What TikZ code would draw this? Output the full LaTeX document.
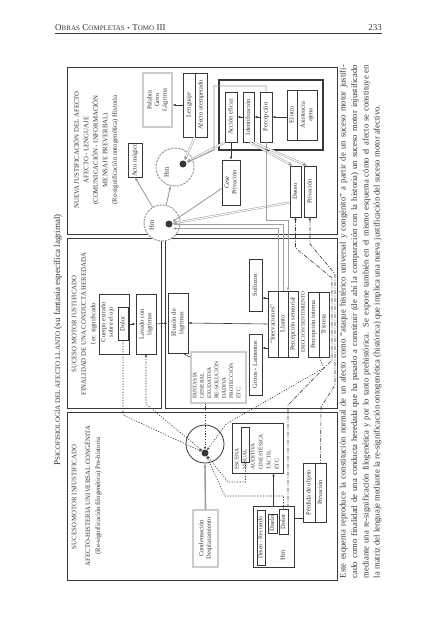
\documentclass[tikz,border=0pt]{standalone}
\usepackage{fontspec}
\setmainfont{Liberation Serif}
\usepackage{graphicx}
\usetikzlibrary{arrows.meta,calc}

\definecolor{ink}{gray}{0.22}
\definecolor{midgray}{gray}{0.62}
\definecolor{palegray}{gray}{0.8}

\newcommand{\rtx}[1]{\rotatebox{90}{\begin{tabular}{@{}c@{}}#1\end{tabular}}}
\newcommand{\rtl}[1]{\rotatebox{90}{\begin{tabular}{@{}l@{}}#1\end{tabular}}}
\newcommand{\fsc}[2]{{\fontsize{9}{9}\selectfont #1}{\fontsize{7}{7}\selectfont #2}}

\begin{document}
\begin{tikzpicture}[x=1pt, y=-1pt,
  bx/.style={draw=ink, line width=0.7pt, inner sep=0pt, text=ink, font=\fontsize{6.5}{7.5}\selectfont},
  pbx/.style={draw=palegray, line width=1.4pt, inner sep=0pt, text=ink, font=\fontsize{6.5}{7.5}\selectfont},
  txt/.style={inner sep=0pt, text=ink, font=\fontsize{6.8}{9.5}\selectfont},
  captxt/.style={inner sep=0pt, text=ink, font=\fontsize{8.6}{11}\selectfont},
  hmring/.style={circle, draw=midgray, fill=white, line width=1pt, dash pattern=on 2.5pt off 1pt, inner sep=0pt},
  blackdot/.style={circle, fill=ink, minimum size=7pt, inner sep=0pt},
  panel/.style={draw=ink, line width=0.8pt},
  thinln/.style={draw=ink, line width=0.6pt},
  lnk/.style={draw=ink, line width=0.6pt, -{Latex[length=3pt,width=2.5pt]}},
  glnk/.style={draw=midgray, line width=0.9pt, -{Latex[length=3.5pt,width=3pt]}},
  rail/.style={draw=midgray, double=white, double distance=1.1pt, line width=0.5pt, -{Latex[length=4pt,width=4pt]}},
  dotln/.style={draw=ink, line width=0.6pt, dash pattern=on 1.2pt off 1.5pt},
  dashdot/.style={draw=ink, line width=0.6pt, dash pattern=on 4pt off 1.5pt on 1pt off 1.5pt}
]
\useasboundingbox[fill=white] (0,0) rectangle (435,640);

% running head
\node[anchor=base west, inner sep=0pt, text=ink] (head) at (55,30) {\fsc{O}{BRAS} \fsc{C}{OMPLETAS} {\fontsize{7}{7}\selectfont\textbullet} \fsc{T}{OMO} {\fontsize{9}{9}\selectfont III}};
\node[anchor=base east, inner sep=0pt, text=ink, font=\fontsize{9}{9}\selectfont] (pagenum) at (382,30) {233};
\draw[ink, line width=0.9pt] (head.base west) ++(0,3.5) -- (382,33.5);

% title
\node[inner sep=0pt, text=ink] (title) at (58,340) {\rotatebox{90}{\fontsize{9}{9}\selectfont P{\fontsize{7}{7}\selectfont SICOFISIOLOGÍA DEL AFECTO LLANTO} (su fantasía específica lagrimal)}};

% panels
\draw[panel] (67,67) rectangle (337,234);
\draw[panel] (67,238) rectangle (161,408);
\draw[panel] (165,238) rectangle (337,408);
\draw[panel] (67,412) rectangle (337,580);

% panel 3
\node[txt] (nuevaj) at (96,150) {\rtx{NUEVA JUSTIFICACIÓN DEL AFECTO\\AFECTO - LENGUAJE\\(COMUNICACIÓN - INFORMACIÓN\\MENSAJE PREVERBAL)\\(Re-significación ontogenética) Historia}};
\node[bx, minimum width=14pt, minimum height=34pt] (acto) at (135,160) {\rtx{Acto mágico}};
\node[pbx, minimum width=29pt, minimum height=54pt] (palabra) at (157.5,100) {\rtx{Palabra\\Grito\\Lágrima}};
\node[bx, minimum width=12pt, minimum height=64pt] (leng) at (189,105) {\rtx{Lenguaje}};
\node[bx, minimum width=12pt, minimum height=64pt] (afat) at (201,105) {\rtx{Afecto atemperado}};
\node[draw=ink, line width=1.3pt, minimum width=104pt, minimum height=70pt, inner sep=0pt] (bigbox) at (271,115) {};
\node[bx, minimum width=12pt, minimum height=50pt] (accion) at (231,117) {\rtx{Acción eficaz}};
\node[bx, minimum width=11pt, minimum height=50pt] (ident) at (248.5,117) {\rtx{Identificación}};
\node[bx, minimum width=12pt, minimum height=50pt] (percep) at (266,117) {\rtx{Percepción}};
\node[bx, minimum width=10pt, minimum height=50pt] (elotro) at (292,115) {\rtx{El otro}};
\node[bx, minimum width=20pt, minimum height=50pt] (asist) at (307,115) {\rtx{Asistencia\\ajena}};
\node[bx, minimum width=18pt, minimum height=45pt] (cese) at (231,182.5) {\rtx{Cese\\Privación}};
\node[bx, minimum width=11pt, minimum height=51pt] (deseo3) at (295.5,191.5) {\rtx{Deseo}};
\node[bx, minimum width=12pt, minimum height=51pt] (priv3) at (310,191.5) {\rtx{Privación}};
\node[hmring, minimum size=38pt] (hmup) at (175,167) {};
\node[blackdot] (dotup) at (183,164) {};
\node[txt] (hmupl) at (167,172) {\rtx{Hm}};
\node[hmring, minimum size=36pt] (hmlo) at (162,223) {};
\node[blackdot] (dotlo) at (169,224) {};
\node[txt] (hmlol) at (152,225) {\rtx{Hm}};

\draw[lnk] (leng.west) -- (leng.west -| palabra.east);
\draw[lnk] (ident.west) -- (accion.east);
\draw[lnk] (percep.west) -- (ident.east);
\draw[lnk] (elotro.west |- percep.east) -- (percep.east);
\draw[lnk] (accion.south) -- (cese.north);
\draw[rail] ($(ident.south)+(1.5,0)$) -- ($(deseo3.north)+(-3,0)$);
\draw[rail] ($(ident.south)+(5,0)$) -- ($(priv3.north)+(-3,0)$);
\draw[rail] ($(deseo3.west)+(0,11)$) -- (dotlo);
\draw[glnk] ($(cese.west)+(0,6)$) -- (dotlo);
\draw[glnk] (hmlo) -- (hmup);
\draw[glnk] (hmlo) -- (acto.south);
\draw[rail] (afat.south west) -- (dotup);
\draw[rail] (accion.south west) -- (dotup);
\draw[glnk] (percep.north) |- (214,86) -- (214,150) -- (dotup);
\draw[glnk] (percep.south) -- (266,220) -| (288,291);
\draw[glnk] (283,291) |- (dotlo.east);
\draw[glnk] (278,291) |- ($(dotlo.east)+(0,4.5)$);

% panel 2
\node[txt] (t2) at (84,324) {\rtx{SUCESO MOTOR JUSTIFICADO\\FINALIDAD DE UNA CONDUCTA HEREDADA\\1er. significado}};
\node[bx, minimum width=30pt, minimum height=60pt] (cuerpo) at (114,324) {};
\node[txt, font=\fontsize{6.5}{7.5}\selectfont] (cuerpot) at (107.5,322) {\rtx{Cuerpo extraño\\sobre el ojo}};
\node[bx, minimum width=10pt, minimum height=33pt] (dolor2) at (123,323.5) {\rtx{Dolor}};
\node[bx, minimum width=20pt, minimum height=60pt] (lavado) at (146,324) {\rtx{Lavado con\\lágrimas}};
\node[bx, minimum width=20pt, minimum height=60pt] (efusion) at (178,323) {\rtx{Efusión de\\lágrimas}};
\node[pbx, minimum width=55pt, minimum height=51pt] (fantasia) at (218.5,377.5) {};
\node[txt, anchor=south, font=\fontsize{5.6}{7.3}\selectfont] (fantasiat) at (217,399) {\rtl{FANTASÍA\\GENERAL\\EXUDATIVA\\RE-SOLUCIÓN\\DÁDIVA\\PROTECCIÓN\\ETC.}};
\node[bx, minimum width=13pt, minimum height=52pt] (sollozos) at (255.5,285) {\rtx{Sollozos}};
\node[bx, minimum width=13pt, minimum height=61pt] (gritos) at (255.5,364.5) {\rtx{Gritos - Lamentos}};
\node[bx, minimum width=10pt, minimum height=66pt] (inerv) at (273,324) {\rtx{“Inervaciones”}};
\node[bx, minimum width=10pt, minimum height=66pt] (llanto) at (283,324) {\rtx{Llanto}};
\node[bx, minimum width=10pt, minimum height=66pt] (persens) at (293,324) {\rtx{Percepción sensorial}};
\node[txt, font=\fontsize{5.3}{6}\selectfont] (emocion) at (303.5,322) {\rtx{EMOCIÓN SENTIMIENTO}};
\node[bx, minimum width=11pt, minimum height=65pt] (perint) at (313.5,324.5) {\rtx{Percepción interna}};
\node[bx, minimum width=10pt, minimum height=65pt] (tristeza) at (324,324.5) {\rtx{Tristeza}};

\draw[lnk] (cuerpo.east) -- (lavado.west);
\draw[lnk] (lavado.east) -- (efusion.west);
\draw[lnk] (inerv.west) -- (efusion.east);
\draw[lnk] ($(inerv.west)+(0,-26)$) -- ($(sollozos.east)+(0,13)$);
\draw[lnk] ($(inerv.west)+(0,24)$) -- ($(gritos.east)+(0,-16.5)$);
\draw[thinln] ($(efusion.south)+(5,0)$) -- ($(fantasia.north west)+(0,6)$);

% panel 1
\node[txt] (t1a) at (74.5,497) {\rtx{SUCESO MOTOR INJUSTIFICADO}};
\node[txt, font=\fontsize{6.8}{10}\selectfont] (t1b) at (93,496) {\rtx{AFECTO-HISTERIA UNIVERSAL CONGÉNITA\\(Re-significación filogenética) Pre-historia}};
\node[circle, draw=ink, line width=0.8pt, minimum size=38pt, inner sep=0pt] (circ1) at (205,444) {};
\node[blackdot] (dot1) at (205,453) {};
\node[bx, minimum width=51pt, minimum height=50pt] (escena) at (257.5,448) {};
\node[bx, minimum width=8pt, minimum height=35pt] (visual) at (245.5,444.5) {};
\node[txt, anchor=south, font=\fontsize{5.6}{8}\selectfont] (escenat) at (257,470) {\rtl{ESCENA\\VISUAL\\AUDITIVA\\CINESTÉSICA\\TÁCTIL\\ETC.}};
\node[pbx, minimum width=25pt, minimum height=57pt] (condens) at (205.5,538.5) {\rtx{Condensación\\Desplazamiento}};
\node[bx, minimum width=41pt, minimum height=61pt] (deseobox) at (273.5,536.5) {};
\node[bx, minimum width=8pt, minimum height=55pt, font=\fontsize{6}{7}\selectfont] (deseorec) at (261,537.5) {\rtx{Deseo - Recuerdo}};
\node[bx, minimum width=9pt, minimum height=19pt] (duelo) at (272.5,523.5) {\rtx{Duelo}};
\node[bx, minimum width=9pt, minimum height=25pt] (dolor1) at (283.5,521.5) {\rtx{Dolor}};
\node[txt] (hm1) at (283,555) {\rtx{Hm}};
\node[bx, minimum width=12pt, minimum height=59pt] (perdida) at (309,492.5) {\rtx{Pérdida de objeto}};
\node[bx, minimum width=11pt, minimum height=59pt] (priv1) at (320.5,492.5) {\rtx{Privación}};

\draw[dotln, -{Stealth[length=3pt]}] (dolor2.south) -- (123,415) -- (dot1);
\draw[dotln, {Stealth[length=3pt]}-{Stealth[length=3pt]}] (lavado.south) -- (146,404) -- (dot1);
\draw[dotln, -{Stealth[length=3pt]}] (fantasia.south -| dot1) -- (dot1);
\draw[dotln, -{Stealth[length=3pt]}] (perint.south east) -- (324,368) -- (226,424) -- (dot1);
\draw[dotln, -{Stealth[length=3pt]}] (visual.south) -- (245.5,482) -- (228,482) -- (dot1);
\draw[dotln, -{Stealth[length=3pt]}] (dolor1.north) -- (283.5,496) -- (225,496) -- (dot1);
\draw[glnk, line width=1.6pt] (condens.north) -- (circ1.south);
\draw[lnk] (deseobox.north) -- (deseobox.north |- escena.south);
\coordinate (pj) at ($(deseobox.east)+(0,-18)$);
\draw[thinln] (pj) -- (pj -| perdida.west);

% dash-dot returns
\draw[dashdot, {Stealth[length=3pt]}-] (deseo3.south) -- (295.5,248) -- (332,278) -- (332,360) -- (324,368) -- (288,405) -- (288,506);
\draw[dashdot, {Stealth[length=3pt]}-] (priv3.south) -- (310,244) -- (335,274) -- (335,385) -- (321,407) -- (priv1.north);

% caption
\node[captxt] (cap1) at (343.5,321.5) {\rotatebox{90}{\makebox[513pt][s]{Este esquema reproduce la constitución normal de un afecto como “ataque histérico universal y congénito” a partir de un suceso motor justifi-}}};
\node[captxt] (cap2) at (355,321.5) {\rotatebox{90}{\makebox[513pt][s]{cado como finalidad de una conducta heredada que ha pasado a constituir (de ahí la comparación con la historia) un suceso motor injustificado}}};
\node[captxt] (cap3) at (366.5,321.5) {\rotatebox{90}{\makebox[513pt][s]{mediante una re-significación filogenética y por lo tanto prehistórica. Se expone también en el mismo esquema cómo el afecto se constituye en}}};
\node[captxt] (cap4) at (377.5,321.5) {\rotatebox{90}{\makebox[513pt][l]{la matriz del lenguaje mediante la re-significación ontogenética (histórica) que implica una nueva justificación del suceso motor afectivo.}}};
\end{tikzpicture}
\end{document}
